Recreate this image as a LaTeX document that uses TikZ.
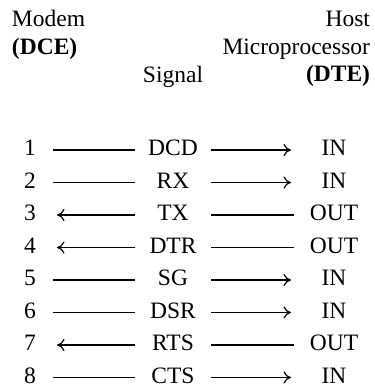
\documentclass[tikz,border=0pt]{standalone}
\usepackage{fontspec}
\setmainfont{Liberation Serif}
\usetikzlibrary{arrows.meta}
\begin{document}
\begin{tikzpicture}[x=1pt,y=1pt,
  every node/.style={inner sep=0pt,outer sep=0pt,font=\fontsize{23.5}{28}\selectfont},
  numcol/.style={anchor=base,minimum width=50pt},
  sigcol/.style={anchor=base,minimum width=76pt},
  iocol/.style={anchor=base,minimum width=84pt},
  wire/.style={line width=1.2pt},
  tip/.style={-{To[length=7.5pt,width=12pt,line width=1.2pt]}}]
\useasboundingbox (0,0) rectangle (374,-387);
% headers
\node[anchor=base west] (modem) at (12,-27) {Modem};
\node[anchor=base west] (dce) at (12,-54.5) {\bfseries(DCE)};
\node[anchor=base east] (host) at (370,-27) {Host};
\node[anchor=base east] (micro) at (370,-54.5) {Microprocessor};
\node[anchor=base east] (dte) at (370,-82) {\bfseries(DTE)};
\node[anchor=base] (signal) at (173,-83) {Signal};
% rows: number / signal / io / direction (r = modem to host, l = host to modem)
\foreach \n/\s/\io/\d [count=\k from 0] in {1/DCD/IN/r,2/RX/IN/r,3/TX/OUT/l,4/DTR/OUT/l,5/SG/IN/r,6/DSR/IN/r,7/RTS/OUT/l,8/CTS/IN/r}{
  \pgfmathsetmacro{\yb}{-155.5-32.5*\k}
  \node[numcol] (n\n) at (30,\yb) {\n};
  \node[sigcol] (s\n) at (173,\yb) {\s};
  \node[iocol] (o\n) at (334,\yb) {\io};
  \if r\d
    \draw[wire] ([yshift=5.5pt,xshift=-2pt]n\n.base east) -- ([yshift=5.5pt]s\n.base west);
    \draw[wire,tip] ([yshift=5.5pt]s\n.base east) -- ([yshift=5.5pt,xshift=-1pt]o\n.base west);
  \else
    \draw[wire,tip] ([yshift=5.5pt]s\n.base west) -- ([yshift=5.5pt,xshift=2pt]n\n.base east);
    \draw[wire] ([yshift=5.5pt,xshift=2pt]o\n.base west) -- ([yshift=5.5pt]s\n.base east);
  \fi
}
\end{tikzpicture}
\end{document}
